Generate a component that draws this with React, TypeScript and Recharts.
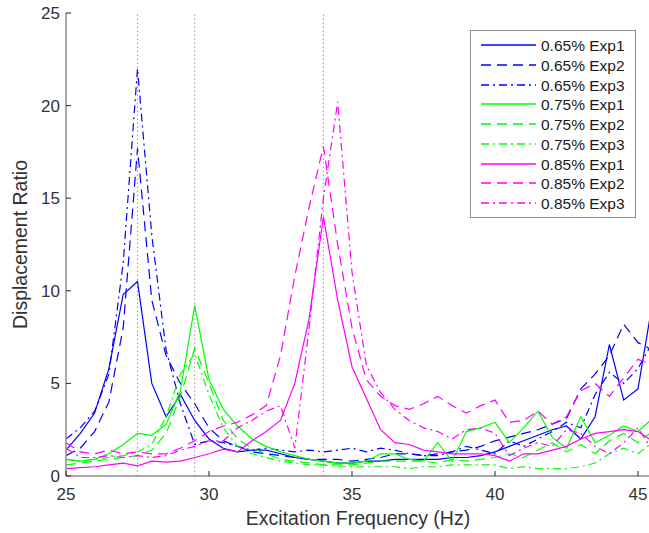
import React from 'react';
import { LineChart, Line, XAxis, YAxis, ReferenceLine, Legend, Label } from 'recharts';

// Excitation frequency (Hz)
const freq = [25, 25.5, 26, 26.5, 27, 27.5, 28, 28.5, 29, 29.5, 30, 30.5, 31, 31.5, 32, 32.5, 33, 33.5, 34, 34.5, 35, 35.5, 36, 36.5, 37, 37.5, 38, 38.5, 39, 39.5, 40, 40.5, 41, 41.5, 42, 42.5, 43, 43.5, 44, 44.5, 45, 45.5];

// 0.65%
const b1 = [1.4, 2.3, 3.4, 5.8, 9.8, 10.5, 5.0, 3.2, 4.4, 3.0, 2.0, 1.5, 1.3, 1.4, 1.4, 1.2, 1.0, 0.9, 0.8, 0.7, 0.7, 0.8, 0.8, 0.9, 0.9, 0.9, 0.9, 1.0, 1.0, 1.1, 1.3, 1.6, 1.9, 2.2, 2.5, 2.7, 2.0, 3.2, 7.1, 4.1, 4.7, 9.3];
const b2 = [1.1, 1.5, 2.4, 4.0, 8.0, 17.7, 9.5, 6.5, 5.0, 3.9, 2.6, 1.9, 1.6, 1.3, 1.2, 1.1, 1.0, 0.9, 0.9, 0.9, 0.8, 0.9, 1.0, 1.2, 1.2, 1.1, 1.2, 1.3, 1.4, 1.6, 1.9, 2.1, 2.3, 2.5, 2.8, 3.1, 4.7, 5.5, 6.5, 8.2, 7.2, 6.8];
const b3 = [2.0, 2.6, 3.5, 5.5, 11.5, 22.0, 13.0, 6.8, 3.9, 1.7, 1.9, 1.8, 1.6, 1.4, 1.5, 1.4, 1.3, 1.4, 1.3, 1.4, 1.5, 1.3, 1.5, 1.4, 1.2, 1.1, 1.1, 1.3, 1.6, 1.4, 1.2, 1.9, 1.6, 2.0, 2.4, 2.9, 2.6, 4.4, 5.6, 5.0, 5.8, 7.2];
// 0.75%
const g1 = [0.9, 0.8, 0.9, 1.2, 1.7, 2.3, 2.2, 2.8, 4.6, 9.2, 5.2, 3.6, 2.7, 2.0, 1.6, 1.3, 1.1, 0.9, 0.8, 0.7, 0.7, 0.8, 1.2, 1.2, 0.9, 0.8, 1.8, 0.8, 2.4, 2.6, 2.9, 1.8, 2.6, 3.5, 2.1, 1.5, 3.2, 1.8, 2.2, 2.7, 2.4, 3.1];
const g2 = [0.6, 0.7, 0.8, 0.9, 1.0, 1.1, 1.4, 2.3, 4.3, 6.9, 5.0, 3.0, 2.0, 1.5, 1.2, 0.9, 0.8, 0.7, 0.6, 0.6, 0.6, 0.7, 0.8, 0.8, 0.8, 0.8, 0.7, 0.9, 0.8, 0.9, 1.0, 1.2, 1.0, 1.4, 1.8, 1.3, 1.7, 1.2, 1.9, 2.3, 1.8, 2.4];
const g3 = [0.9, 0.8, 0.9, 1.0, 1.1, 1.3, 1.7, 3.2, 5.5, 6.6, 4.4, 2.6, 1.6, 1.2, 1.0, 0.8, 0.7, 0.6, 0.6, 0.5, 0.5, 0.5, 0.5, 0.5, 0.4, 0.5, 0.5, 0.6, 0.6, 0.6, 0.6, 0.4, 0.5, 0.4, 0.4, 0.4, 0.5, 0.7, 1.2, 1.5, 1.2, 1.8];
// 0.85%
const m1 = [0.4, 0.45, 0.5, 0.6, 0.7, 0.55, 0.8, 0.75, 0.8, 1.0, 1.2, 1.45, 1.3, 1.9, 2.4, 3.0, 5.0, 8.5, 14.0, 9.5, 5.9, 4.2, 2.5, 1.8, 1.7, 1.4, 1.3, 1.2, 1.2, 1.2, 1.1, 0.8, 1.2, 1.2, 1.4, 1.6, 2.0, 2.3, 2.4, 2.5, 2.4, 1.9];
const m2 = [1.8, 1.3, 1.2, 1.4, 1.2, 1.3, 1.2, 1.2, 1.5, 1.9, 2.4, 2.7, 2.9, 3.3, 3.8, 6.5, 10.8, 14.5, 17.8, 12.5, 8.0, 5.2, 4.3, 3.8, 3.6, 3.9, 4.3, 3.8, 3.4, 3.8, 4.1, 2.9, 3.0, 3.5, 2.8, 3.2, 4.6, 5.0, 4.3, 5.3, 6.3, 6.0];
const m3 = [1.5, 1.0, 1.0, 1.1, 1.0, 1.1, 1.0, 1.1, 1.4, 1.6, 1.9, 1.9, 2.6, 3.0, 3.5, 3.8, 1.5, 8.0, 15.0, 20.2, 11.0, 6.0, 4.5, 3.6, 3.0, 2.6, 2.4, 2.0, 2.5, 2.6, 2.3, 1.1, 1.5, 1.8, 1.6, 2.5, 2.3, 1.6, 1.2, 1.8, 2.6, 1.4];

const seriesNames = ['0.65% Exp1', '0.65% Exp2', '0.65% Exp3', '0.75% Exp1', '0.75% Exp2', '0.75% Exp3', '0.85% Exp1', '0.85% Exp2', '0.85% Exp3'];
const xTicks = [25, 30, 35, 40, 45];
const yTicks = [0, 5, 10, 15, 20, 25];
const markerFreqs = [27.5, 29.5, 34];

const BLUE = '#0000ff';
const GREEN = '#00ff00';
const MAGENTA = '#ff00ff';
const SOLID = 'none';
const DASH = '10 6';
const DASHDOT = '8 4 2 4';

const series = [
  { key: 'b1', values: b1, color: BLUE, dash: SOLID },
  { key: 'b2', values: b2, color: BLUE, dash: DASH },
  { key: 'b3', values: b3, color: BLUE, dash: DASHDOT },
  { key: 'g1', values: g1, color: GREEN, dash: SOLID },
  { key: 'g2', values: g2, color: GREEN, dash: DASH },
  { key: 'g3', values: g3, color: GREEN, dash: DASHDOT },
  { key: 'm1', values: m1, color: MAGENTA, dash: SOLID },
  { key: 'm2', values: m2, color: MAGENTA, dash: DASH },
  { key: 'm3', values: m3, color: MAGENTA, dash: DASHDOT },
].map((s, i) => ({ ...s, name: seriesNames[i] }));

const data = freq.map((f, i) => {
  const row: any = { f };
  series.forEach((s) => { row[s.key] = s.values[i]; });
  return row;
});

const FONT = '"Liberation Sans", Arial, Helvetica, sans-serif';
const AXIS = '#8c8c8c';
const TICK = '#262626';
const TEXT = '#333333';

const BottomTick = (p: any) => (
  <g>
    <line x1={p.x} y1={p.y} x2={p.x} y2={p.y - 5} stroke={TICK} strokeWidth={1} />
    <text x={p.x} y={p.y + 24} textAnchor="middle" fontSize={17} fill={TEXT} fontFamily={FONT}>{p.payload.value}</text>
  </g>
);
const LeftTick = (p: any) => (
  <g>
    <line x1={p.x} y1={p.y} x2={p.x + 5} y2={p.y} stroke={TICK} strokeWidth={1} />
    <text x={p.x - 6} y={p.y + 6} textAnchor="end" fontSize={17} fill={TEXT} fontFamily={FONT}>{p.payload.value}</text>
  </g>
);
const TopTick = (p: any) => (
  <line x1={p.x} y1={p.y} x2={p.x} y2={p.y + 5} stroke={TICK} strokeWidth={1} />
);
const RightTick = (p: any) => (
  <line x1={p.x} y1={p.y} x2={p.x - 5} y2={p.y} stroke={TICK} strokeWidth={1} />
);

const XTitle = (p: any) => {
  const vb = p.viewBox || {};
  return (
    <text x={vb.x + vb.width / 2} y={vb.y + 49} textAnchor="middle" fontSize={19.5} fill={TEXT} fontFamily={FONT}>
      Excitation Frequency (Hz)
    </text>
  );
};
const YTitle = (p: any) => {
  const vb = p.viewBox || {};
  const cy = vb.y + vb.height / 2;
  return (
    <text x={27} y={cy} transform={`rotate(-90 27 ${cy})`} textAnchor="middle" fontSize={19.5} fill={TEXT} fontFamily={FONT}>
      Displacement Ratio
    </text>
  );
};

const LegendBox = () => (
  <div style={{ width: 166, height: 188, border: '1.5px solid #8c8c8c', background: '#fff', boxSizing: 'border-box' }}>
    <svg width={163} height={185} style={{ display: 'block' }}>
      {series.map((s, i) => {
        const y = Math.round(14 + i * 19.75);
        return (
          <g key={s.key}>
            <path d={`M10 ${y} L65 ${y}`} fill="none" stroke={s.color} strokeWidth={1.4} strokeDasharray={s.dash} />
            <text x={70} y={y + 5.5} fontSize={15.5} fill="#1a1a1a" fontFamily={FONT}>{s.name}</text>
          </g>
        );
      })}
    </svg>
  </div>
);

export default function App() {
  return (
    <div style={{ position: 'fixed', left: 0, top: 0, width: 649, height: 533, overflow: 'hidden', background: '#fff' }}>
      <LineChart width={660} height={533} data={data} margin={{ top: 13, right: 10, bottom: 0, left: 0 }}>
        <XAxis dataKey="f" type="number" domain={[25, 45.42]} allowDataOverflow ticks={xTicks} interval={0}
          height={57} tickSize={0} tickMargin={0} tickLine={false} tick={BottomTick}
          axisLine={{ stroke: AXIS, strokeWidth: 1.5 }}>
          <Label content={XTitle} />
        </XAxis>
        <XAxis xAxisId="t" orientation="top" dataKey="f" type="number" domain={[25, 45.42]} allowDataOverflow ticks={xTicks} interval={0}
          height={0} tickSize={0} tickMargin={0} tickLine={false} tick={TopTick}
          axisLine={{ stroke: AXIS, strokeWidth: 1.5 }} />
        <YAxis type="number" domain={[0, 25]} ticks={yTicks} interval={0} width={66}
          tickSize={0} tickMargin={0} tickLine={false} tick={LeftTick}
          axisLine={{ stroke: AXIS, strokeWidth: 1.5 }}>
          <Label content={YTitle} />
        </YAxis>
        <YAxis yAxisId="r" orientation="right" type="number" domain={[0, 25]} ticks={yTicks} interval={0} width={0}
          tickSize={0} tickMargin={0} tickLine={false} tick={RightTick}
          axisLine={{ stroke: AXIS, strokeWidth: 1.5 }} />
        {markerFreqs.map((f) => (
          <ReferenceLine key={f} x={f} stroke="#9a9a9a" strokeWidth={1} strokeDasharray="1.5 2.5" />
        ))}
        {series.map((s) => (
          <Line key={s.key} dataKey={s.key} name={s.name} type="linear" stroke={s.color} strokeWidth={1.2}
            strokeDasharray={s.dash === SOLID ? undefined : s.dash} dot={false} activeDot={false} isAnimationActive={false} />
        ))}
        <Legend content={LegendBox} layout="vertical" align="center" verticalAlign="middle"
          wrapperStyle={{ left: 470, top: 30, width: 166, height: 188 }} />
      </LineChart>
    </div>
  );
}
